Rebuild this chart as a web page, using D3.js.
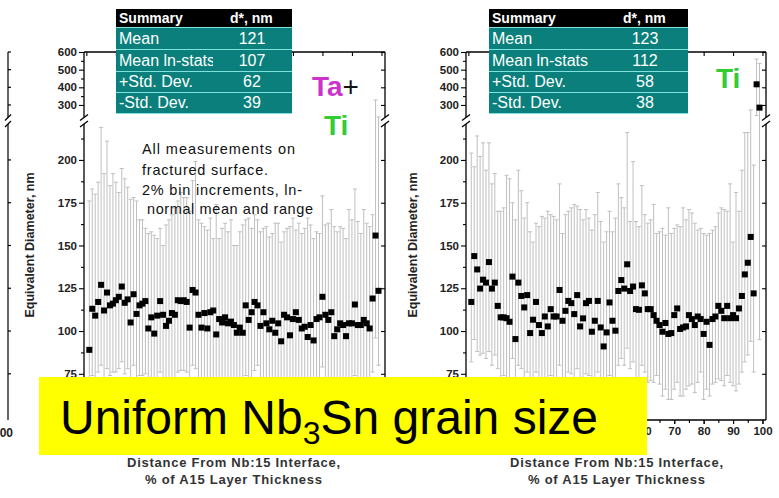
<!DOCTYPE html>
<html>
<head>
<meta charset="utf-8">
<script src="https://cdn.jsdelivr.net/npm/d3@7"></script>
<style>
  html, body { margin: 0; padding: 0; background: #fff; }
  svg { display: block; }
</style>
</head>
<body>
<svg id="chart" width="779" height="498"></svg>
<script>
// ---- data -------------------------------------------------------------
// bin positions, % of A15 layer thickness
const positions = d3.range(1, 100);

// Ta+Ti wire: ln-normal mean grain diameter (nm) and range ends
const leftMean = [
  89, 113, 109, 117, 127, 112, 122.5, 115, 116, 118,
  120, 126, 116.5, 118.5, 105, 121.5, 110, 115, 116, 117.5,
  101.5, 108, 98.5, 109, 117.5, 109.5, 103, 106, 110.5, 109.5,
  118, 117.5, 118, 117, 102, 124, 122.5, 109.5, 102, 110.5,
  101.5, 111, 112, 98, 107, 105, 108, 104.5, 105.5, 103.5,
  99, 102, 99, 115, 106.5, 111, 117, 115, 103, 111,
  104.5, 101, 106, 99, 104.5, 94, 109.5, 108, 97.5, 107,
  111, 106.5, 101.5, 102.5, 96.5, 103.5, 94.5, 107, 108, 120,
  109.5, 106.5, 111, 97, 101, 104.5, 103.5, 97, 104.5, 104.5,
  115.5, 103.5, 103.5, 106.5, 104.5, 101.5, 119, 155.8, 123.5
];
const leftUpper = [
  176, 183, 180, 187, 219, 192, 211, 185, 192, 187,
  181, 195, 189, 184, 177, 178, 176, 165, 165, 160,
  157, 158, 156, 154, 160, 150, 162, 165, 168, 172,
  176, 181, 178, 178, 170, 188, 199, 165, 163, 161,
  159, 166, 154, 174, 154, 160, 163, 158, 165, 150,
  150, 158, 162, 165, 166, 160, 168, 165, 158, 160,
  161, 155, 157, 163, 163, 152, 158, 160, 161, 166,
  159, 163, 157, 160, 166, 162, 154, 158, 157, 179,
  162, 163, 171, 161, 158, 161, 160, 154, 171, 165,
  183, 164, 157, 171, 163, 161, 168, 328, 232
];
const leftLower = [
  62, 74, 70, 76, 80, 72, 78, 74, 76, 76,
  78, 82, 75, 78, 66, 80, 70, 74, 74, 75,
  62, 68, 60, 69, 76, 70, 64, 66, 70, 70,
  76, 77, 77, 76, 63, 80, 78, 70, 63, 70,
  62, 71, 72, 59, 68, 66, 68, 65, 66, 64,
  60, 63, 60, 74, 67, 71, 77, 80, 64, 71,
  65, 62, 66, 60, 65, 56, 69, 68, 59, 67,
  71, 67, 62, 63, 58, 64, 57, 67, 68, 79,
  69, 67, 71, 59, 62, 65, 64, 59, 65, 65,
  74, 64, 64, 67, 65, 62, 76, 96, 80
];

// Ti wire
const rightMean = [
  117, 143.8, 136, 124.8, 130, 128.3, 140.3, 124.8, 128.3, 114.7,
  108, 108, 107.5, 105.4, 131.8, 95.3, 128.3, 120.5, 113.8, 121,
  98.8, 106.6, 117, 103.5, 98.8, 108.5, 102.7, 112.8, 108.5, 108.5,
  124, 106, 111.8, 117.6, 116.3, 109.9, 121, 102.7, 107.4, 116.3,
  117.6, 99.6, 106, 117.6, 102.1, 91, 99.2, 116.7, 106, 100.2,
  123.4, 129.8, 124.8, 139, 123.4, 126, 112.8, 112.4, 126.7, 122,
  112.8, 112.8, 109.3, 106, 103.5, 99.6, 104.7, 98.3, 98.8, 109.3,
  113.2, 101.2, 102.1, 102.7, 109.3, 107, 103.5, 108.5, 107, 98.3,
  105.4, 91.9, 107, 108.5, 114.7, 111.8, 107.5, 114.7, 107.5, 109.3,
  107.5, 113.2, 120.5, 133.1, 139.9, 155, 122, 417, 285
];
const rightUpper = [
  204, 196, 214, 202, 210, 194, 210, 186, 192, 170,
  170, 172, 191, 189, 175, 165, 194, 182, 166, 175,
  158, 152, 163, 161, 167, 166, 170, 168, 167, 165,
  186, 157, 168, 170, 172, 174, 173, 171, 165, 171,
  166, 159, 168, 181, 164, 152, 158, 170, 158, 166,
  186, 178, 172, 216, 164, 199, 164, 161, 185, 168,
  163, 165, 174, 157, 158, 160, 156, 172, 157, 160,
  162, 161, 172, 165, 171, 169, 163, 159, 160, 157,
  156, 157, 159, 161, 169, 172, 171, 170, 186, 152,
  181, 170, 194, 216, 216, 272, 197, 560, 535
];
const rightLower = [
  82, 95, 88, 86, 87, 84, 88, 80, 86, 78,
  72, 74, 70, 68, 84, 62, 80, 78, 72, 76,
  64, 70, 76, 66, 62, 70, 66, 74, 70, 72,
  80, 68, 72, 76, 75, 70, 78, 66, 68, 75,
  74, 62, 66, 76, 64, 56, 62, 74, 66, 62,
  80, 84, 80, 90, 78, 82, 70, 68, 80, 76,
  70, 71, 70, 74, 69, 62, 66, 60, 60, 66,
  70, 62, 62, 66, 68, 69, 64, 70, 76, 60,
  66, 62, 69, 70, 72, 71, 68, 74, 70, 68,
  65, 69, 76, 82, 86, 94, 76, 240, 95
];

// summary tables
const summaryLabels = ["Mean", "Mean ln-stats", "+Std. Dev.", "-Std. Dev."];
const leftSummary = [121, 107, 62, 39];
const rightSummary = [123, 112, 58, 38];

// tick values
const xTicks = [0, 10, 20, 30, 40, 50, 60, 70, 80, 90, 100];
const xLabelledTicks = [60, 70, 80, 90, 100];
const xMinorTicks = [5, 15, 25, 35, 45, 55, 65, 75, 85, 95];
const yLowerTicks = [75, 100, 125, 150, 175, 200];
const yUpperTicks = [300, 400, 500, 600];
const yMinorTicks = [87.5, 112.5, 137.5, 162.5, 187.5, 212.5, 350, 450, 550];

// ---- drawing ----------------------------------------------------------
const FONT = '"Liberation Sans", Arial, Helvetica, sans-serif';
const svg = d3.select("#chart").attr("font-family", FONT);
const TOP = 52, BOTTOM = 420;

// broken value axis: 48..221 below the break, 229..600 above it
const makeY = () => d3.scaleLinear()
  .domain([48, 221, 229, 600])
  .range([BOTTOM, 124, 117.5, TOP]);

const panels = [
  { x0: 84, x1: 385, mean: leftMean, upper: leftUpper, lower: leftLower,
    stats: leftSummary, tx: 116, tw: 176, col1: 97, unitX: 114, valX: 136,
    titleX: 233.5, yLabelX: 34, xLabels: [] },
  { x0: 466, x1: 766, mean: rightMean, upper: rightUpper, lower: rightLower,
    stats: rightSummary, tx: 489, tw: 199, col1: 199, unitX: 134, valX: 156,
    titleX: 616.5, yLabelX: 417, xLabels: xLabelledTicks }
];

// partial frame of the neighbouring plot on the far left
{
  const y = makeY();
  const g = svg.append("g").attr("stroke", "#000").attr("stroke-width", 1.2);
  g.append("line").attr("x1", 8).attr("x2", 8).attr("y1", TOP).attr("y2", y(229));
  g.append("line").attr("x1", 8).attr("x2", 8).attr("y1", y(221)).attr("y2", BOTTOM);
  g.append("line").attr("x1", 5).attr("x2", 11).attr("y1", y(229) + 3).attr("y2", y(229) - 3);
  g.append("line").attr("x1", 5).attr("x2", 11).attr("y1", y(221) + 3).attr("y2", y(221) - 3);
  g.selectAll("line.tk").data(yLowerTicks.concat(yUpperTicks)).join("line")
    .attr("class", "tk").attr("x1", 8).attr("x2", 11)
    .attr("y1", d => y(d)).attr("y2", d => y(d));
  svg.append("text").attr("x", 13).attr("y", 437).attr("text-anchor", "end")
    .attr("font-size", 12).attr("font-weight", "bold").attr("fill", "#222").text("100");
}

panels.forEach(p => {
  const x = d3.scaleLinear().domain([-0.8, 101.2]).range([p.x0, p.x1]);
  const y = makeY();
  const g = svg.append("g");

  // error bars (ln-normal range)
  const eb = g.append("g").attr("stroke", "#bfbfbf").attr("stroke-width", 1).attr("fill", "none");
  const recs = positions.map((pos, i) => ({ pos, m: p.mean[i], hi: p.upper[i], lo: p.lower[i] }));
  eb.selectAll("line.v").data(recs).join("line").attr("class", "v")
    .attr("x1", d => x(d.pos)).attr("x2", d => x(d.pos))
    .attr("y1", d => y(d.lo)).attr("y2", d => y(d.hi));
  eb.selectAll("line.ch").data(recs).join("line").attr("class", "ch")
    .attr("x1", d => x(d.pos) - 2).attr("x2", d => x(d.pos) + 2)
    .attr("y1", d => y(d.hi)).attr("y2", d => y(d.hi));
  eb.selectAll("line.cl").data(recs).join("line").attr("class", "cl")
    .attr("x1", d => x(d.pos) - 2).attr("x2", d => x(d.pos) + 2)
    .attr("y1", d => y(d.lo)).attr("y2", d => y(d.lo));

  // axes
  const styleAxis = a => {
    a.select(".domain").remove();
    a.selectAll("line").attr("stroke", "#000").attr("stroke-width", 1.1);
    a.selectAll("text").attr("fill", "#222").attr("font-size", 11.5)
      .attr("font-weight", "bold").attr("font-family", FONT);
  };
  g.append("g").attr("transform", `translate(${p.x0},0)`)
    .call(d3.axisLeft(y).tickValues(yLowerTicks.concat(yUpperTicks)).tickSize(5).tickPadding(2).tickFormat(d3.format("d")))
    .call(styleAxis);
  g.append("g").attr("transform", `translate(${p.x0},0)`)
    .call(d3.axisLeft(y).tickValues(yMinorTicks).tickSize(3).tickFormat(""))
    .call(styleAxis);
  g.append("g").attr("transform", `translate(${p.x1},0)`)
    .call(d3.axisRight(y).tickValues(yLowerTicks.concat(yUpperTicks)).tickSize(-4).tickFormat(""))
    .call(styleAxis);
  g.append("g").attr("transform", `translate(0,${BOTTOM})`)
    .call(d3.axisBottom(x).tickValues(xTicks).tickSize(4).tickFormat(""))
    .call(styleAxis);
  g.append("g").attr("transform", `translate(0,${BOTTOM})`)
    .call(d3.axisBottom(x).tickValues(p.xLabels).tickSize(4).tickPadding(3).tickFormat(d3.format("d")))
    .call(styleAxis);
  g.append("g").attr("transform", `translate(0,${BOTTOM})`)
    .call(d3.axisBottom(x).tickValues(xMinorTicks).tickSize(3).tickFormat(""))
    .call(styleAxis);
  g.append("g").attr("transform", `translate(0,${TOP})`)
    .call(d3.axisTop(x).tickValues(xTicks).tickSize(-4).tickFormat(""))
    .call(styleAxis);

  // frame with the axis break
  const fr = g.append("g").attr("stroke", "#000").attr("stroke-width", 1.3).attr("fill", "none");
  fr.append("line").attr("x1", p.x0).attr("x2", p.x1).attr("y1", TOP).attr("y2", TOP);
  fr.append("line").attr("x1", p.x0).attr("x2", p.x1).attr("y1", BOTTOM).attr("y2", BOTTOM);
  [p.x0, p.x1].forEach(ax => {
    fr.append("line").attr("x1", ax).attr("x2", ax).attr("y1", TOP).attr("y2", y(229));
    fr.append("line").attr("x1", ax).attr("x2", ax).attr("y1", y(221)).attr("y2", BOTTOM);
    fr.append("line").attr("x1", ax - 4).attr("x2", ax + 4).attr("y1", y(229) + 3).attr("y2", y(229) - 3);
    fr.append("line").attr("x1", ax - 4).attr("x2", ax + 4).attr("y1", y(221) + 3).attr("y2", y(221) - 3);
  });

  // mean markers
  g.append("g").selectAll("rect").data(recs).join("rect")
    .attr("x", d => x(d.pos) - 3).attr("y", d => y(d.m) - 3)
    .attr("width", 6).attr("height", 6).attr("fill", "#000");

  // axis titles
  svg.append("text")
    .attr("transform", `translate(${p.yLabelX},245) rotate(-90)`)
    .attr("text-anchor", "middle").attr("font-size", 12.5).attr("font-weight", "bold")
    .attr("fill", "#222").text("Equivalent Diameter, nm");
  svg.append("text").attr("x", p.titleX).attr("y", 467).attr("text-anchor", "middle")
    .attr("font-size", 13).attr("font-weight", "bold").attr("fill", "#333")
    .attr("textLength", 213).attr("lengthAdjust", "spacing")
    .text("Distance From Nb:15 Interface,");
  svg.append("text").attr("x", p.titleX).attr("y", 484).attr("text-anchor", "middle")
    .attr("font-size", 13).attr("font-weight", "bold").attr("fill", "#333")
    .attr("textLength", 177).attr("lengthAdjust", "spacing")
    .text("% of A15 Layer Thickness");

  // summary table
  const tb = svg.append("g").attr("transform", `translate(${p.tx},9)`);
  const rowTops = [18, 40, 62, 83];
  const rowH = [22, 22, 21, 21];
  tb.append("rect").attr("width", p.tw).attr("height", 18).attr("fill", "#000");
  tb.append("rect").attr("y", 18).attr("width", p.tw).attr("height", 86).attr("fill", "#0b7f7b");
  tb.selectAll("line.sep").data(rowTops.concat([104])).join("line").attr("class", "sep")
    .attr("x1", 0).attr("x2", p.tw).attr("y1", d => d + 0.5).attr("y2", d => d + 0.5)
    .attr("stroke", "#7fe3dd").attr("stroke-width", 1);
  const clipId = "clip" + p.tx;
  tb.append("clipPath").attr("id", clipId).append("rect").attr("width", p.col1).attr("height", 104);
  tb.append("text").attr("x", 3).attr("y", 14).attr("font-size", 14).attr("font-weight", "bold")
    .attr("fill", "#fff").text("Summary");
  tb.append("text").attr("x", p.unitX).attr("y", 14).attr("font-size", 14).attr("font-weight", "bold")
    .attr("fill", "#fff").text("d*, nm");
  tb.append("g").attr("clip-path", `url(#${clipId})`)
    .selectAll("text").data(summaryLabels).join("text")
    .attr("x", 3).attr("y", (d, i) => rowTops[i] + rowH[i] - 5)
    .attr("font-size", 16).attr("fill", "#fff").text(d => d);
  tb.selectAll("text.val").data(p.stats).join("text").attr("class", "val")
    .attr("x", p.valX).attr("y", (d, i) => rowTops[i] + rowH[i] - 5)
    .attr("text-anchor", "middle").attr("font-size", 16).attr("fill", "#fff").text(d => d);
});

// notes on the Ta+Ti plot
const noteLines = [
  { t: "All measurements on", x: 142, y: 154, w: 153 },
  { t: "fractured surface.", x: 142, y: 175, w: 126 },
  { t: "2% bin increments, ln-", x: 142, y: 195, w: 160 },
  { t: "normal mean and range", x: 147, y: 214, w: 166 }
];
svg.append("g").selectAll("text").data(noteLines).join("text")
  .attr("x", d => d.x).attr("y", d => d.y).attr("font-size", 14.5).attr("fill", "#111")
  .attr("textLength", d => d.w).attr("lengthAdjust", "spacing").text(d => d.t);

const ta = svg.append("text").attr("x", 312).attr("y", 96).attr("font-size", 28).attr("font-weight", "bold");
ta.append("tspan").attr("fill", "#cc33cc").text("Ta");
ta.append("tspan").attr("fill", "#111").attr("font-weight", "normal").text("+");
svg.append("text").attr("x", 324).attr("y", 135).attr("font-size", 28).attr("font-weight", "bold")
  .attr("fill", "#33cc33").text("Ti");
svg.append("text").attr("x", 716).attr("y", 88).attr("font-size", 28).attr("font-weight", "bold")
  .attr("fill", "#33cc33").text("Ti");

// headline banner
svg.append("rect").attr("x", 39).attr("y", 377).attr("width", 608).attr("height", 78).attr("fill", "#ffff00");
const hl = svg.append("text").attr("x", 60).attr("y", 434).attr("font-size", 48).attr("fill", "#000");
hl.append("tspan").text("Uniform Nb");
hl.append("tspan").attr("font-size", 32).attr("dy", 10).text("3");
hl.append("tspan").attr("dy", -10).text("Sn grain size");
</script>
</body>
</html>
